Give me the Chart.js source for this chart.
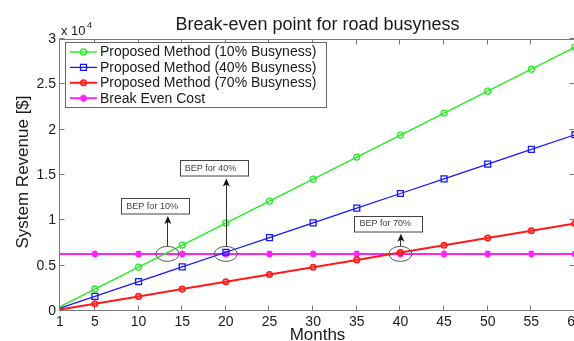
<!DOCTYPE html>
<html>
<head>
<meta charset="utf-8">
<script src="https://cdn.jsdelivr.net/npm/chart.js@4.4.1/dist/chart.umd.min.js"></script>
<style>
  html, body { margin: 0; padding: 0; background: #fff; overflow: hidden; }
  #wrap { width: 574px; height: 341px; overflow: hidden; position: relative; }
  canvas { display: block; }
</style>
</head>
<body>
<div id="wrap"><canvas id="c" width="620" height="341"></canvas></div>
<script>
// ---- data (revenue in $) ----
const months = [1, 5, 10, 15, 20, 25, 30, 35, 40, 45, 50, 55, 60];
const revenue10 = [485, 2425, 4850, 7275, 9700, 12125, 14550, 16975, 19400, 21825, 24250, 26675, 29100];
const revenue40 = [324, 1620, 3240, 4860, 6480, 8100, 9720, 11340, 12960, 14580, 16200, 17820, 19440];
const revenue70 = [161, 805, 1610, 2415, 3220, 4025, 4830, 5635, 6440, 7245, 8050, 8855, 9660];
const breakEven = [6300, 6300, 6300, 6300, 6300, 6300, 6300, 6300, 6300, 6300, 6300, 6300, 6300];

const seriesLabels = [
  'Proposed Method (10% Busyness)',
  'Proposed Method (40% Busyness)',
  'Proposed Method (70% Busyness)',
  'Break Even Cost'
];
const monthTicks = [1, 5, 10, 15, 20, 25, 30, 35, 40, 45, 50, 55, 60];
const revenueTicks = [0, 5000, 10000, 15000, 20000, 25000, 30000];

// break-even callouts: crossing month, label, and the revenue level of the label box bottom
const bepMonths = [13.3, 20, 40];
const bepTexts = ['BEP for 10%', 'BEP for 40%', 'BEP for 70%'];
const bepBoxLevels = [10750, 14900, 8800];

const FONT = '"Liberation Sans", Arial, Helvetica, sans-serif';
const AXIS_COLOR = '#7a7a7a';
const TEXT_COLOR = '#1a1a1a';

const toPoints = vals => months.map((m, i) => ({ x: m, y: vals[i] }));
const radii = r => months.map(m => (m === months[0] ? 0 : r));

const datasets = [
  { label: seriesLabels[0], data: toPoints(revenue10), borderColor: '#22ee22', borderWidth: 1.4,
    pointStyle: 'circle', pointRadius: radii(3), pointBorderColor: '#22ee22',
    pointBackgroundColor: 'rgba(0,0,0,0)', pointBorderWidth: 1.3, legendRadius: 3 },
  { label: seriesLabels[1], data: toPoints(revenue40), borderColor: '#1818ff', borderWidth: 1.3,
    pointStyle: 'rect', pointRadius: radii(4.2), pointBorderColor: '#1818ff',
    pointBackgroundColor: 'rgba(0,0,0,0)', pointBorderWidth: 1.3, legendRadius: 4.2 },
  { label: seriesLabels[2], data: toPoints(revenue70), borderColor: '#ff1a1a', borderWidth: 2,
    pointStyle: 'circle', pointRadius: radii(2.8), pointBorderColor: '#ff1a1a',
    pointBackgroundColor: 'rgba(255,60,60,0.5)', pointBorderWidth: 1.5, legendRadius: 2.8 },
  { label: seriesLabels[3], data: toPoints(breakEven), borderColor: '#ff22ff', borderWidth: 2,
    pointStyle: 'star', pointRadius: radii(3.5), pointBorderColor: '#ff22ff',
    pointBackgroundColor: '#ff22ff', pointBorderWidth: 2, legendRadius: 3.5 }
];
datasets.forEach(d => { d.fill = false; d.tension = 0; d.clip = 6; });

// axes box with inward tick marks (top/bottom/left/right)
const framePlugin = {
  id: 'frame',
  beforeDatasetsDraw(chart) {
    const { ctx, chartArea: a, scales: { x, y } } = chart;
    const L = Math.round(a.left) - 0.5, R = Math.round(a.right) - 0.5;
    const T = Math.round(a.top) + 0.5, B = Math.round(a.bottom) - 0.5;
    ctx.save();
    ctx.strokeStyle = AXIS_COLOR;
    ctx.lineWidth = 1;
    ctx.strokeRect(L, T, R - L, B - T);
    ctx.beginPath();
    monthTicks.forEach(m => {
      const px = Math.round(x.getPixelForValue(m)) - 0.5;
      ctx.moveTo(px, B); ctx.lineTo(px, B - 5);
      ctx.moveTo(px, T); ctx.lineTo(px, T + 5);
    });
    revenueTicks.forEach(v => {
      const py = Math.round(y.getPixelForValue(v)) - 0.5;
      ctx.moveTo(L, py); ctx.lineTo(L + 5, py);
      ctx.moveTo(R, py); ctx.lineTo(R - 5, py);
    });
    ctx.stroke();
    ctx.restore();
  }
};

function drawMarker(ctx, ds, cx, cy) {
  ctx.save();
  ctx.fillStyle = ds.pointBackgroundColor;
  ctx.strokeStyle = ds.pointBorderColor;
  ctx.lineWidth = ds.pointBorderWidth;
  if (Chart.helpers && Chart.helpers.drawPoint) {
    Chart.helpers.drawPoint(ctx, { pointStyle: ds.pointStyle, radius: ds.legendRadius,
      borderWidth: ds.pointBorderWidth, rotation: 0 }, cx, cy);
  } else {
    ctx.beginPath(); ctx.arc(cx, cy, ds.legendRadius, 0, Math.PI * 2);
    ctx.fill(); ctx.stroke();
  }
  ctx.restore();
}

// titles, exponent label, callouts and the in-plot legend
const decorPlugin = {
  id: 'decor',
  afterDraw(chart) {
    const { ctx, chartArea: a, scales: { x, y } } = chart;
    ctx.save();
    ctx.fillStyle = TEXT_COLOR;

    // chart title
    ctx.font = '18px ' + FONT;
    ctx.textAlign = 'center';
    ctx.textBaseline = 'alphabetic';
    ctx.fillText('Break-even point for road busyness', (a.left + a.right) / 2, 30);

    // x axis title
    ctx.font = '17px ' + FONT;
    ctx.fillText('Months', (a.left + a.right) / 2, 340);

    // y axis title
    ctx.save();
    ctx.translate(28, (a.top + a.bottom) / 2 - 3);
    ctx.rotate(-Math.PI / 2);
    ctx.fillText('System Revenue [$]', 0, 0);
    ctx.restore();

    // scale exponent
    ctx.textAlign = 'left';
    ctx.font = '13px ' + FONT;
    ctx.fillText('x 10', a.left + 1, 35);
    ctx.font = '9px ' + FONT;
    ctx.fillText('4', a.left + 27, 28);

    // break-even callouts
    const lvlPx = y.getPixelForValue(breakEven[0]);
    bepMonths.forEach((m, i) => {
      const cx = x.getPixelForValue(m);
      const rx = 11.5, ry = 7.5;
      ctx.strokeStyle = '#555';
      ctx.lineWidth = 1;
      ctx.beginPath();
      ctx.ellipse(cx, lvlPx, rx, ry, 0, 0, Math.PI * 2);
      ctx.stroke();

      const boxBottom = y.getPixelForValue(bepBoxLevels[i]);
      const boxH = 15.5, boxW = 68;
      const boxLeft = cx - 46;
      const tipY = boxBottom + 2.5;
      // arrow shaft
      ctx.strokeStyle = '#333';
      ctx.beginPath();
      ctx.moveTo(Math.round(cx) + 0.5, lvlPx - ry);
      ctx.lineTo(Math.round(cx) + 0.5, tipY + 4);
      ctx.stroke();
      // arrow head
      ctx.fillStyle = '#111';
      ctx.beginPath();
      ctx.moveTo(cx + 0.5, tipY);
      ctx.lineTo(cx - 3, tipY + 8);
      ctx.lineTo(cx + 0.5, tipY + 6);
      ctx.lineTo(cx + 4, tipY + 8);
      ctx.closePath();
      ctx.fill();
      // label box
      ctx.fillStyle = '#fff';
      ctx.fillRect(boxLeft, boxBottom - boxH, boxW, boxH);
      ctx.strokeStyle = '#444';
      ctx.strokeRect(Math.round(boxLeft) + 0.5, Math.round(boxBottom - boxH) + 0.5, boxW, boxH);
      ctx.fillStyle = '#444';
      ctx.font = '9px ' + FONT;
      ctx.textAlign = 'left';
      ctx.textBaseline = 'middle';
      ctx.fillText(bepTexts[i], boxLeft + 5, boxBottom - boxH / 2 + 0.5);
    });

    // legend
    const lx = a.left + 5, ly = a.top + 3, lw = 261, lh = 65;
    ctx.fillStyle = '#fff';
    ctx.fillRect(lx, ly, lw, lh);
    ctx.strokeStyle = '#666';
    ctx.lineWidth = 1;
    ctx.strokeRect(Math.round(lx) + 0.5, Math.round(ly) + 0.5, lw, lh);
    ctx.font = '14px ' + FONT;
    ctx.textAlign = 'left';
    ctx.textBaseline = 'middle';
    chart.data.datasets.forEach((ds, i) => {
      const yy = ly + 10 + i * 15.4;
      ctx.strokeStyle = ds.borderColor;
      ctx.lineWidth = ds.borderWidth;
      ctx.beginPath();
      ctx.moveTo(lx + 5, yy);
      ctx.lineTo(lx + 32, yy);
      ctx.stroke();
      drawMarker(ctx, ds, lx + 18.5, yy);
      ctx.fillStyle = TEXT_COLOR;
      ctx.fillText(ds.label, lx + 35, yy + 0.5);
    });
    ctx.restore();
  }
};

new Chart(document.getElementById('c'), {
  type: 'line',
  data: { datasets },
  options: {
    responsive: false,
    animation: false,
    devicePixelRatio: 1,
    layout: { padding: { left: 0, right: 45, top: 39, bottom: 0 } },
    scales: {
      x: {
        type: 'linear', min: 1, max: 60,
        afterBuildTicks: s => { s.ticks = monthTicks.map(v => ({ value: v })); },
        afterFit: s => { s.height = 30; },
        grid: { display: false, drawTicks: false },
        border: { display: false },
        ticks: { color: TEXT_COLOR, font: { family: FONT, size: 14 }, padding: 3,
                 maxRotation: 0, autoSkip: false }
      },
      y: {
        type: 'linear', min: 0, max: 30000,
        afterBuildTicks: s => { s.ticks = revenueTicks.map(v => ({ value: v })); },
        afterFit: s => { s.width = 60; },
        grid: { display: false, drawTicks: false },
        border: { display: false },
        ticks: { color: TEXT_COLOR, font: { family: FONT, size: 14 }, padding: 4,
                 callback: v => String(v / 10000) }
      }
    },
    plugins: { legend: { display: false }, tooltip: { enabled: false }, title: { display: false } }
  },
  plugins: [framePlugin, decorPlugin]
});
</script>
</body>
</html>
